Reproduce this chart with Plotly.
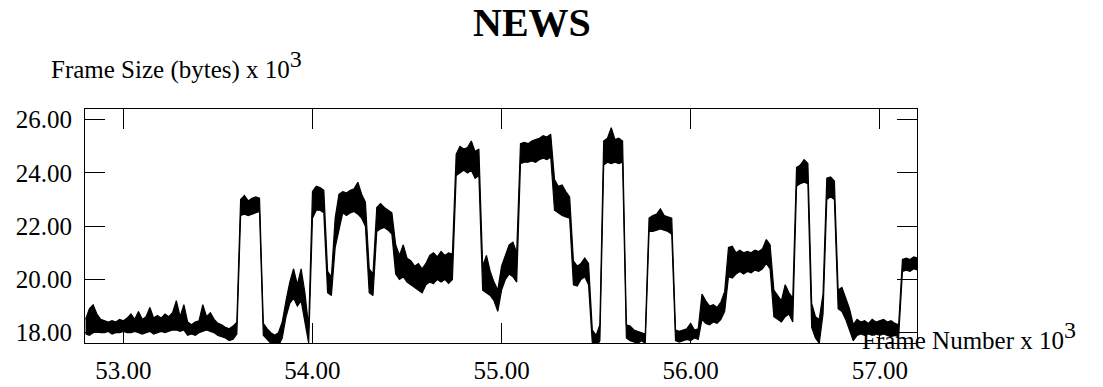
import plotly.graph_objects as go

# sampling grid (thousands of frames), one envelope reading every 20 frames
frame_k = [round(52.80 + 0.02 * i, 2) for i in range(221)]

# lower edge of the trace (bytes x 10^3)
size_lo = [
    17.95, 17.9, 18.0, 18.05, 18.0, 18.0, 18.05, 17.95, 18.0, 18.0,
    18.05, 18.0, 18.0, 18.05, 18.0, 17.95, 18.0, 18.05, 17.95, 18.0,
    18.05, 18.0, 18.05, 18.1, 18.1, 18.05, 18.1, 17.9, 17.95, 17.9,
    18.0, 18.05, 18.1, 18.05, 18.0, 17.9, 17.85, 17.8, 17.7, 17.75,
    17.95, 22.4, 22.45, 22.4, 22.45, 22.5, 22.55, 17.9, 17.75, 17.6,
    17.45, 17.5, 17.8, 18.6, 19.1, 19.3, 19.0, 19.2, 18.4, 17.6,
    22.3, 22.6, 22.6, 22.5, 19.5, 19.4, 21.2, 21.9, 22.5, 22.4,
    22.5, 22.55, 22.45, 22.3, 22.0, 19.5, 19.4, 21.8, 21.9, 21.95,
    21.85, 21.7, 20.2, 20.0, 20.1, 19.9, 19.8, 19.7, 19.6, 19.5,
    19.8, 19.9, 19.85, 20.0, 19.9, 20.0, 19.85, 20.0, 23.9, 24.0,
    24.1, 24.0, 24.1, 23.8, 23.9, 19.6, 19.5, 19.4, 19.2, 18.8,
    19.6, 20.0, 20.2, 20.1, 19.9, 24.35, 24.4, 24.4, 24.45, 24.4,
    24.5, 24.55, 24.5, 24.6, 22.6, 22.5, 22.4, 22.35, 22.3, 19.8,
    19.75, 20.0, 20.1, 19.8, 17.6, 17.45, 17.7, 24.3, 24.4, 24.35,
    24.4, 24.35, 24.4, 17.8, 17.7, 17.65, 17.6, 17.7, 17.6, 21.8,
    21.8, 21.85, 21.9, 21.85, 21.8, 21.7, 17.7, 17.65, 17.7, 17.75,
    17.7, 17.8, 17.75, 18.5, 18.35, 18.3, 18.4, 18.35, 18.5, 18.8,
    20.1, 20.05, 20.2, 20.3, 20.2, 20.3, 20.25, 20.35, 20.3, 20.4,
    20.6, 20.4, 18.6, 18.5, 18.4, 18.6, 18.7, 18.4, 23.5, 23.6,
    23.65, 23.6, 18.2, 17.8, 17.6, 18.7, 23.0, 23.1, 23.0, 18.9,
    18.8, 18.5, 18.1, 17.7, 17.9, 17.95, 17.9, 17.95, 17.9, 17.95,
    17.9, 17.95, 17.9, 17.85, 17.9, 17.85, 20.3, 20.35, 20.3, 20.4,
    20.35,
]

# upper edge of the trace (bytes x 10^3)
size_hi = [
    18.5, 18.9, 19.05, 18.7, 18.5, 18.45, 18.4, 18.45, 18.4, 18.5,
    18.45, 18.55, 18.7, 18.5, 18.8, 18.5, 18.6, 18.95, 18.55, 18.65,
    18.55, 18.7, 18.6, 18.75, 19.2, 18.6, 19.05, 18.4, 18.3, 18.4,
    18.45, 19.05, 18.6, 18.75, 18.5, 18.35, 18.3, 18.2, 18.15, 18.25,
    18.4, 23.0, 23.15, 22.95, 23.05, 23.1, 23.05, 18.35, 18.15, 18.0,
    17.9, 18.0, 18.4, 19.2, 19.9, 20.4, 19.8, 20.4, 19.5, 18.2,
    23.3, 23.5, 23.45, 23.35, 20.3, 20.1, 22.3, 23.2, 23.3, 23.25,
    23.35, 23.4, 23.65, 23.2, 22.9, 20.4, 20.2, 22.7, 22.85, 22.7,
    22.6, 22.5, 21.3, 20.9, 21.3, 20.8, 20.7, 20.5, 20.6, 20.4,
    20.6, 20.9, 21.0, 20.85, 21.05, 20.9, 21.0, 20.95, 24.7, 25.0,
    24.9, 24.95, 25.2, 24.8, 24.9, 20.5, 20.9, 20.3, 19.9, 19.6,
    20.5, 20.9, 21.3, 21.4, 21.0, 25.1, 25.15, 25.1, 25.2, 25.25,
    25.3, 25.4, 25.35, 25.45, 23.75, 23.5, 23.55, 23.3, 23.1, 20.7,
    20.5, 20.6, 20.8, 20.6, 18.1, 17.9, 18.3, 25.2, 25.3, 25.7,
    25.25, 25.3, 25.2, 18.3, 18.25, 18.1, 18.05, 18.0, 17.95, 22.3,
    22.4, 22.45, 22.65, 22.4, 22.35, 22.3, 18.1, 18.05, 18.1, 18.15,
    18.35, 18.1, 18.15, 19.45, 19.2, 19.0, 19.05, 18.95, 19.15, 19.55,
    21.2, 21.25, 21.0, 21.1, 21.0, 21.05, 21.0, 21.1, 21.05, 21.15,
    21.5, 21.3, 19.6, 19.4, 19.2, 19.8, 19.5, 19.3, 24.2, 24.3,
    24.5, 24.35, 19.1, 18.6, 18.5, 19.45, 23.8, 23.85, 23.7, 19.6,
    19.7, 19.3, 18.9, 18.3, 18.5, 18.4, 18.45, 18.35, 18.5, 18.4,
    18.45, 18.5, 18.4, 18.45, 18.35, 18.3, 20.75, 20.8, 20.75, 20.85,
    20.8,
]

x_ticks = [53, 54, 55, 56, 57]
y_ticks = [18, 20, 22, 24, 26]

title_text = "<b>NEWS</b>"
y_title = 'Frame Size (bytes) x 10<sup><span style="font-size:24px">3</span></sup>'
x_title = 'Frame Number x 10<sup><span style="font-size:24px">3</span></sup>'

FONT = "Liberation Serif, Times New Roman, serif"

fig = go.Figure()
# lower edge, then upper edge filled down to it: a solid noisy band
fig.add_trace(go.Scatter(x=frame_k, y=size_lo, mode="lines",
                         line=dict(color="black", width=1.2),
                         hoverinfo="skip", showlegend=False))
fig.add_trace(go.Scatter(x=frame_k, y=size_hi, mode="lines",
                         line=dict(color="black", width=1.2),
                         fill="tonexty", fillcolor="black",
                         hoverinfo="skip", showlegend=False))

axis_common = dict(
    showgrid=False, zeroline=False, showline=True, linecolor="black",
    linewidth=1, mirror="ticks", ticks="inside", ticklen=20,
    tickwidth=1, tickcolor="black", tickformat=".2f", automargin=False,
    tickfont=dict(family=FONT, size=25, color="black"),
)
fig.update_xaxes(range=[52.797, 57.197], tickvals=x_ticks,
                 ticklabelstandoff=5, **axis_common)
fig.update_yaxes(range=[17.613, 26.40], tickvals=y_ticks,
                 ticklabelstandoff=7, **axis_common)

fig.update_layout(
    width=1103, height=387,
    margin=dict(l=85, r=186, t=109, b=44, pad=0),
    plot_bgcolor="white", paper_bgcolor="white",
    font=dict(family=FONT, color="black"),
    annotations=[
        dict(text=title_text, xref="paper", yref="paper", x=0.537, y=1.371,
             xanchor="center", yanchor="middle", showarrow=False,
             font=dict(family=FONT, size=40, color="black")),
        dict(text=y_title, xref="paper", yref="paper", x=-0.0433, y=1.19,
             xanchor="left", yanchor="middle", showarrow=False,
             font=dict(family=FONT, size=25, color="black")),
        dict(text=x_title, xref="paper", yref="paper", x=0.931, y=0.030,
             xanchor="left", yanchor="middle", showarrow=False,
             font=dict(family=FONT, size=25, color="black")),
    ],
)

# drop the page's default 8px body margin so the figure fills the window
fig.write_html("out.html",
               config={"displayModeBar": False},
               post_script="document.body.style.margin='0';")
